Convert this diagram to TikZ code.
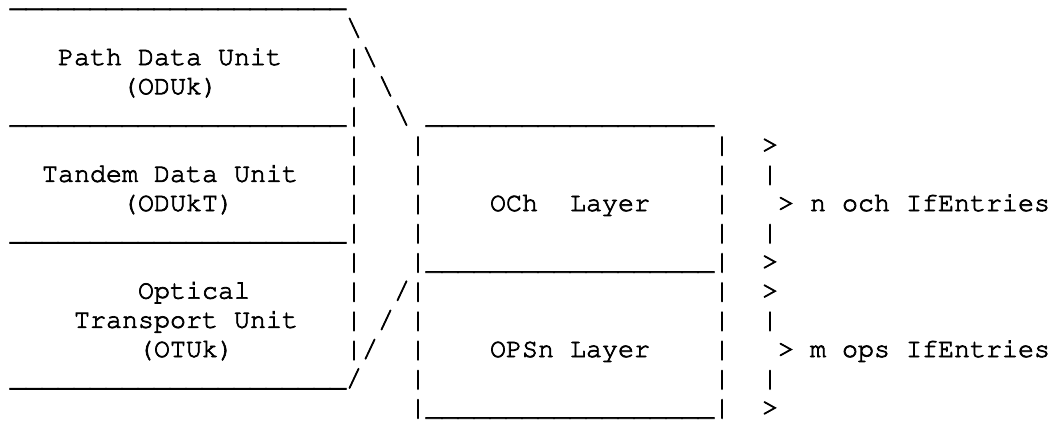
\documentclass[tikz,border=0pt]{standalone}
\usepackage[T1,TU]{fontenc}
\ExplSyntaxOn
\cs_new:Npn \urun #1 {\prg_replicate:nn{#1}{\_}}
\ExplSyntaxOff
\newcommand\cour{\fontencoding{T1}\fontfamily{pcr}\fontseries{m}\fontshape{n}\fontsize{26.67pt}{29pt}\selectfont}
\newcommand\heavier[1]{\special{pdf:literal direct 2 Tr 0.7 w}#1\special{pdf:literal direct 0 Tr}}
\tikzset{asc/.style={anchor=base west, inner sep=0pt, outer sep=0pt, font=\cour, text=black}}
\newcommand\cell[5][]{\node[asc,#1] (#2) at ({(10+16*#3)*1pt},{-(6.6+29.2*#4)*1pt}) {\heavier{#5}};}
\begin{document}
\begin{tikzpicture}
\fill[white] (0,0) rectangle (1057pt,-421pt);
\useasboundingbox (0,0) rectangle (1057pt,-421pt);
% line 0
\cell[text height=0pt]{u0}{0}{0}{\urun{21}}
% line 1
\cell{bs1}{21}{1}{\textbackslash}
% line 2
\cell{pdu}{3}{2}{Path Data Unit}
\cell{e2}{21}{2}{|\textbackslash}
% line 3
\cell{oduk}{7}{3}{(ODUk)}
\cell{e3a}{21}{3}{|}
\cell{e3b}{23}{3}{\textbackslash}
% line 4
\cell{u4}{0}{4}{\urun{21}|}
\cell{e4b}{24}{4}{\textbackslash}
\cell{ochtop}{26}{4}{\urun{18}}
% line 5
\cell{l5a}{21}{5}{|}
\cell{l5b}{25}{5}{|}
\cell{l5c}{44}{5}{|}
\cell{l5d}{47}{5}{>}
% line 6
\cell{tdu}{2}{6}{Tandem Data Unit}
\cell{l6a}{21}{6}{|}
\cell{l6b}{25}{6}{|}
\cell{l6c}{44}{6}{|}
\cell{l6d}{47}{6}{|}
% line 7
\cell{odukt}{7}{7}{(ODUkT)}
\cell{l7a}{21}{7}{|}
\cell{l7b}{25}{7}{|}
\cell{och}{30}{7}{OCh~~Layer}
\cell{l7c}{44}{7}{|}
\cell{nlab}{48}{7}{> n och IfEntries}
% line 8
\cell{u8}{0}{8}{\urun{21}|}
\cell{l8b}{25}{8}{|}
\cell{l8c}{44}{8}{|}
\cell{l8d}{47}{8}{|}
% line 9
\cell{l9a}{21}{9}{|}
\cell{ochbot}{25}{9}{|\urun{18}|}
\cell{l9d}{47}{9}{>}
% line 10
\cell{opt}{8}{10}{Optical}
\cell{l10a}{21}{10}{|}
\cell{l10b}{24}{10}{/|}
\cell{l10c}{44}{10}{|}
\cell{l10d}{47}{10}{>}
% line 11
\cell{tu}{4}{11}{Transport Unit}
\cell{l11a}{21}{11}{|}
\cell{l11b}{23}{11}{/}
\cell{l11c}{25}{11}{|}
\cell{l11d}{44}{11}{|}
\cell{l11e}{47}{11}{|}
% line 12
\cell{otuk}{8}{12}{(OTUk)}
\cell{l12a}{21}{12}{|/}
\cell{l12b}{25}{12}{|}
\cell{ops}{30}{12}{OPSn Layer}
\cell{l12c}{44}{12}{|}
\cell{mlab}{48}{12}{> m ops IfEntries}
% line 13
\cell{u13}{0}{13}{\urun{21}/}
\cell{l13b}{25}{13}{|}
\cell{l13c}{44}{13}{|}
\cell{l13d}{47}{13}{|}
% line 14
\cell{opsbot}{25}{14}{|\urun{18}|}
\cell{l14d}{47}{14}{>}
\end{tikzpicture}
\end{document}
